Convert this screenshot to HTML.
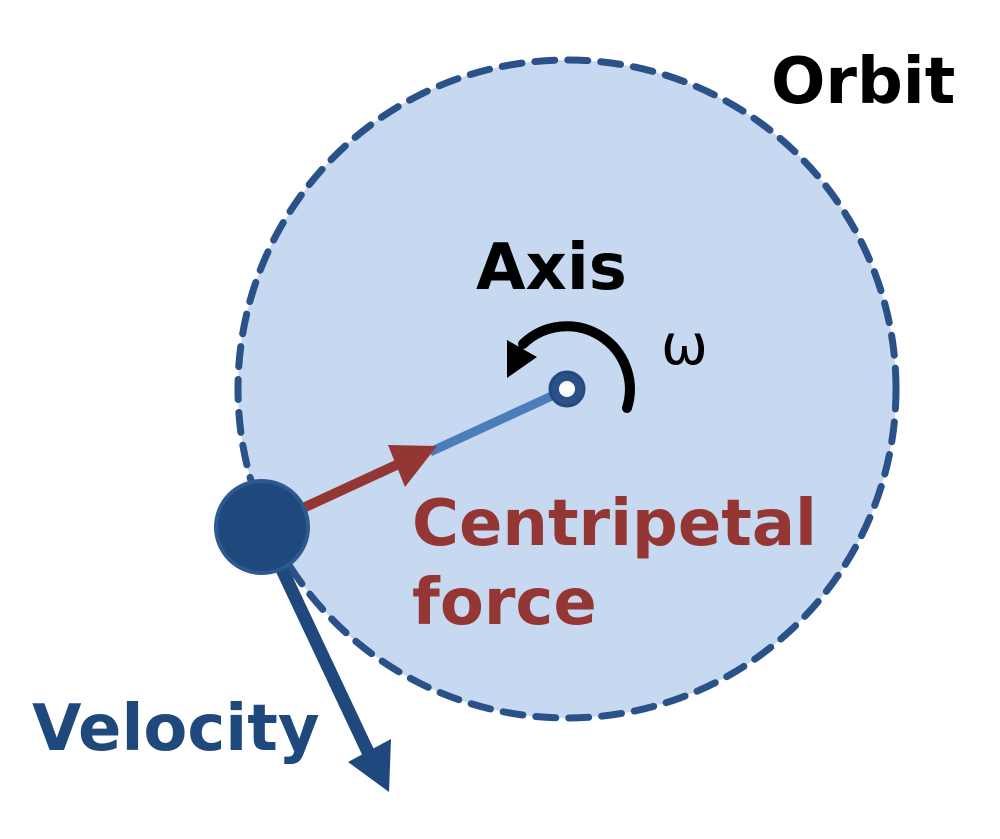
<!DOCTYPE html>
<html><head><meta charset="utf-8"><style>
html,body{margin:0;padding:0;background:#fff}
svg{display:block}
text{font-family:"DejaVu Sans","Liberation Sans",sans-serif;font-weight:bold}
</style></head><body>
<svg width="1000" height="839" viewBox="0 0 1000 839" xmlns="http://www.w3.org/2000/svg">
<circle cx="567" cy="389" r="329" fill="#c6d9f0" stroke="#2a5188" stroke-width="7" stroke-dasharray="20 13" stroke-linecap="round"/>
<line x1="567" y1="389" x2="430" y2="452" stroke="#4a7ebb" stroke-width="9"/>
<line x1="262" y1="527" x2="405" y2="461" stroke="#943634" stroke-width="10"/>
<polygon points="437,446 388,445 405,487" fill="#943634"/>
<line x1="262" y1="527" x2="368" y2="752" stroke="#1f497d" stroke-width="13"/>
<polygon points="389,792 348,762 391,739" fill="#1f497d"/>
<circle cx="262" cy="527" r="46" fill="#1f497d" stroke="#2c5a90" stroke-width="4"/>
<circle cx="567" cy="389" r="17" fill="#2a5188" stroke="#234a80" stroke-width="3"/>
<circle cx="567" cy="389" r="8" fill="#fff"/>
<path d="M627,408 A63,63 0 0 0 523,344" fill="none" stroke="#000" stroke-width="10" stroke-linecap="round"/>
<polygon points="507,340 537,357 507,378" fill="#000"/>
<text x="771" y="103" font-size="64" fill="#000">Orbit</text>
<text x="476" y="289" font-size="64" fill="#000">Axis</text>
<text x="661" y="364" font-size="56" fill="#000" style="font-weight:normal">ω</text>
<text x="412" y="545" font-size="64" fill="#943634">Centripetal</text>
<text x="412" y="624" font-size="64" fill="#943634">force</text>
<text x="32" y="750" font-size="64" fill="#1f497d">Velocity</text>
</svg>
</body></html>
